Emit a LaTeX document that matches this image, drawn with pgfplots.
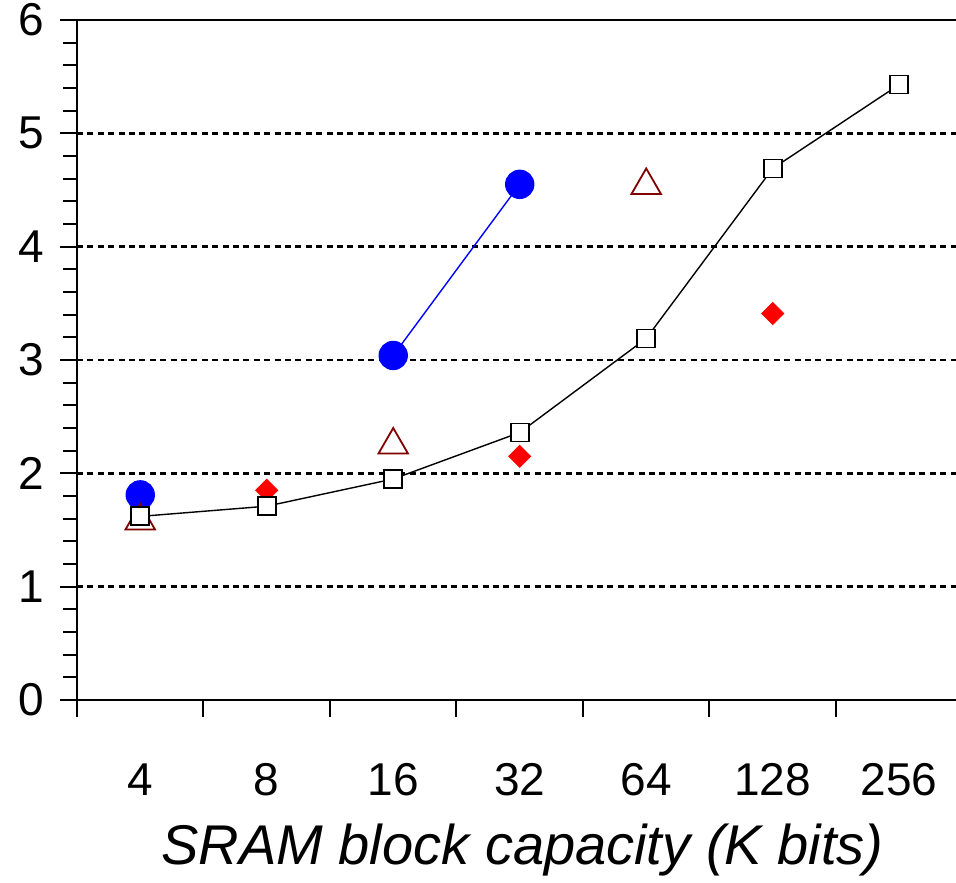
\documentclass[border=0pt]{standalone}
\usepackage{pgfplots}
\pgfplotsset{compat=1.18}
\usepackage{fontspec}
\setmainfont{Liberation Sans}
\begin{document}
\begin{tikzpicture}
\begin{axis}[
  name=ax,
  scale only axis,
  width=439.5pt, height=340pt,
  xmin=-0.5, xmax=6.449,
  ymin=0, ymax=6,
  axis lines=left,
  axis line style={-, line width=1.4pt},
  tick align=outside,
  clip=false,
  /pgf/number format/assume math mode=true,
  ytick={0,1,2,3,4,5,6},
  minor y tick num=4,
  major tick length=8.5pt,
  minor tick length=7pt,
  tick style={black, line width=1pt},
  ymajorgrids,
  major grid style={black, line width=1.3pt, dash pattern=on 3pt off 2.2pt},
  xtick={-0.5,0.5,1.5,2.5,3.5,4.5,5.5},
  xticklabels={},
  extra x ticks={0,1,2,3,4,5,6},
  extra x tick labels={4,8,16,32,64,128,256},
  extra x tick style={major tick length=0pt, grid=none,
     xticklabel style={anchor=center, yshift=-40pt}},
  yticklabel style={anchor=east, inner sep=0pt, xshift=-8pt},
  ticklabel style={font=\fontsize{23}{24}\selectfont},
  xlabel={\itshape SRAM block capacity (K bits)},
  xlabel style={font=\fontsize{28}{30}\selectfont, at={(axis description cs:0.5,0)}, anchor=center, yshift=-75pt, xshift=3pt},
]
\addplot[blue, line width=0.7pt, mark=*, mark size=7pt, mark options={fill=blue, draw=blue}, unbounded coords=jump]
  coordinates {(0,1.81) (1,nan) (2,3.04) (3,4.55)};
\addplot[only marks, mark=triangle, mark size=8.5pt, mark options={draw={rgb,255:red,128;green,0;blue,0}, line width=0.9pt, fill=none}]
  coordinates {(0,1.58) (2,2.25) (4,4.54)};
\addplot[only marks, mark=square*, mark size=3.9pt, mark options={rotate=45, fill=red, draw=red}]
  coordinates {(1,1.85) (3,2.15) (5,3.41)};
\addplot[black, line width=0.7pt, mark=square*, mark size=4.5pt, mark options={fill=white, draw=black, line width=0.9pt}]
  coordinates {(0,1.62) (1,1.71) (2,1.95) (3,2.36) (4,3.19) (5,4.69) (6,5.43)};
\draw[line width=1.4pt] (axis cs:-0.5,6) -- (axis cs:6.449,6);
\end{axis}
\pgfresetboundingbox
\path[use as bounding box] ([xshift=-38.5pt, yshift=-91pt]ax.south west) rectangle ([yshift=10pt]ax.north east);
\end{tikzpicture}
\end{document}
